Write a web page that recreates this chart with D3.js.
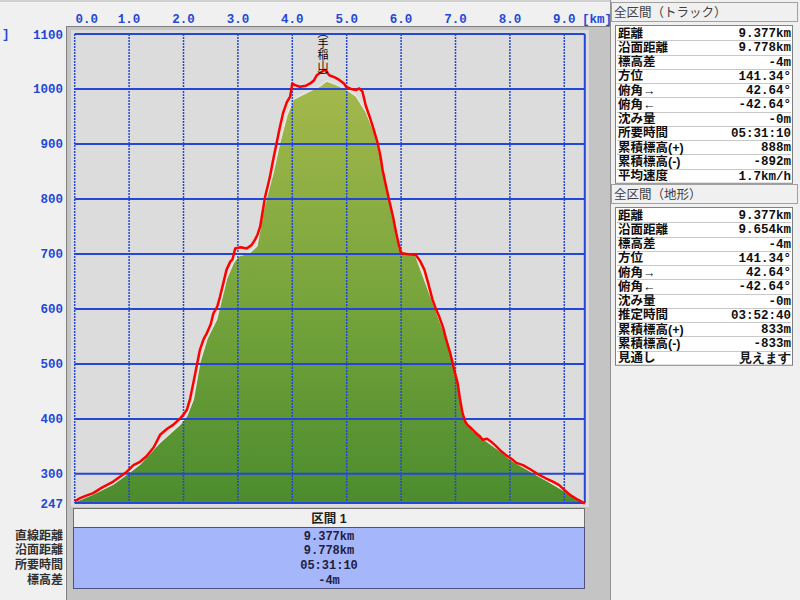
<!DOCTYPE html>
<html><head><meta charset="utf-8">
<script src="https://cdn.jsdelivr.net/npm/d3@7"></script>
<style>
html,body{margin:0;padding:0;background:#f0f0f0;}
svg{display:block;}
</style></head>
<body>
<svg id="c" width="800" height="600"></svg>
<script>
// ---- data ----
const xTicks = [0,1,2,3,4,5,6,7,8,9];
const yTicks = [300,400,500,600,700,800,900,1000,1100];
const yMinLabel = 247;
const totalKm = 9.377;

const trackKm   = [0,0.10,0.20,0.34,0.50,0.71,0.85,0.96,1.08,1.20,1.32,1.45,1.57,1.70,1.81,1.94,2.00,2.06,2.12,2.18,2.24,2.30,2.37,2.43,2.50,2.55,2.62,2.67,2.73,2.79,2.86,2.90,2.95,3.05,3.16,3.25,3.31,3.36,3.41,3.46,3.50,3.55,3.59,3.65,3.71,3.77,3.83,3.90,3.96,4.00,4.05,4.14,4.25,4.33,4.40,4.45,4.52,4.60,4.68,4.78,4.87,4.95,4.99,5.08,5.17,5.23,5.29,5.35,5.42,5.50,5.57,5.62,5.66,5.72,5.78,5.85,5.91,5.96,6.00,6.10,6.20,6.27,6.35,6.43,6.50,6.58,6.64,6.70,6.77,6.83,6.90,6.95,7.00,7.04,7.08,7.13,7.18,7.22,7.30,7.38,7.44,7.50,7.58,7.65,7.75,7.84,7.93,8.02,8.12,8.24,8.38,8.54,8.66,8.79,8.90,9.00,9.08,9.15,9.25,9.34,9.377];
const trackElev = [250,256,260,265,275,286,296,304,316,322,332,348,371,382,389,401,408,416,436,465,495,525,545,556,572,592,604,622,646,671,686,690,710,712,710,716,725,735,750,780,804,824,841,872,901,930,956,976,986,1010,1007,1004,1006,1010,1016,1025,1030,1035,1025,1021,1016,1010,1004,1000,998,1001,995,970,950,925,901,878,853,825,798,768,738,716,701,700,699,698,687,671,646,616,600,586,567,544,521,501,480,465,438,410,395,389,382,374,369,362,364,359,350,341,334,328,320,316,308,298,292,286,280,271,264,259,253,248,246];

const terrKm   = [0,0.34,0.71,0.96,1.20,1.57,1.94,2.06,2.18,2.30,2.43,2.61,2.79,2.92,3.01,3.22,3.35,3.47,3.65,3.77,3.90,4.02,4.26,4.51,4.63,4.80,4.99,5.17,5.36,5.51,5.66,5.78,5.97,6.27,6.52,6.70,6.89,7.01,7.13,7.32,7.56,7.81,8.05,8.42,8.79,9.15,9.377];
const terrElev = [248,262,280,298,316,356,389,404,434,501,544,580,653,683,695,701,713,780,847,901,950,980,992,1004,1013,1007,998,986,956,919,859,798,707,695,628,580,532,483,407,377,359,341,322,301,280,259,247];

const peakLabel = "（手稲山）";
const peakKm = 4.6;

const trackRows = [["距離","9.377km"],["沿面距離","9.778km"],["標高差","-4m"],["方位","141.34°"],["俯角→","42.64°"],["俯角←","-42.64°"],["沈み量","-0m"],["所要時間","05:31:10"],["累積標高(+)","888m"],["累積標高(-)","-892m"],["平均速度","1.7km/h"]];
const terrRows = [["距離","9.377km"],["沿面距離","9.654km"],["標高差","-4m"],["方位","141.34°"],["俯角→","42.64°"],["俯角←","-42.64°"],["沈み量","-0m"],["推定時間","03:52:40"],["累積標高(+)","833m"],["累積標高(-)","-833m"],["見通し","見えます"]];
const sectionLabels = ["直線距離","沿面距離","所要時間","標高差"];
const sectionValues = ["9.377km","9.778km","05:31:10","-4m"];

// ---- drawing ----
const svg = d3.select("#c");
const BLUE = "#2447d6";
const x = d3.scaleLinear().domain([0,totalKm]).range([74.7,584.8]);
const y = d3.scaleLinear().domain([yMinLabel,1100]).range([503,34]);
const mono = "'Liberation Mono','DejaVu Sans Mono',monospace";
const jp = "'Noto Sans CJK JP','Noto Sans CJK SC',sans-serif";
// compact-metric primary font, CJK glyphs fall back to Noto
const jpc = "'Liberation Sans','Noto Sans CJK JP','Noto Sans CJK SC',sans-serif";

function lines(parent, arr, xPos, y0, step, anchor){
  const t = parent.append("g");
  t.selectAll("text").data(arr).join("text").attr("text-anchor",anchor)
    .attr("x",xPos).attr("y",(d,i)=>y0+i*step).text(d=>d);
  return t;
}

// top separator line
svg.append("line").attr("x1",0).attr("x2",610).attr("y1",1).attr("y2",1).attr("stroke","#b0b0b0");

// middle panel background
svg.append("rect").attr("x",66).attr("y",26).attr("width",544).attr("height",574).attr("fill","#c4c4c4");
svg.append("line").attr("x1",66.5).attr("x2",66.5).attr("y1",26).attr("y2",600).attr("stroke","#808080");
svg.append("line").attr("x1",66).attr("x2",610).attr("y1",26.5).attr("y2",26.5).attr("stroke","#808080");
svg.append("line").attr("x1",610.5).attr("x2",610.5).attr("y1",0).attr("y2",600).attr("stroke","#909090");
// plot background
svg.append("rect").attr("x",71).attr("y",30).attr("width",518).attr("height",477).attr("fill","#dcdcdc");

// gradient
const defs = svg.append("defs");
const g = defs.append("linearGradient").attr("id","gr").attr("gradientUnits","userSpaceOnUse")
  .attr("x1",0).attr("x2",0).attr("y1",y(1010)).attr("y2",y(yMinLabel));
g.append("stop").attr("offset",0).attr("stop-color","#a4b84c");
g.append("stop").attr("offset",0.5).attr("stop-color","#78a53c");
g.append("stop").attr("offset",1).attr("stop-color","#4c8c2e");

const terr = terrKm.map((k,i)=>[k,terrElev[i]]);
const trk = trackKm.map((k,i)=>[k,trackElev[i]]);

svg.append("path").datum(terr)
  .attr("d",d3.area().x(d=>x(d[0])).y0(y(yMinLabel)).y1(d=>y(d[1])))
  .attr("fill","url(#gr)");
svg.append("path").datum(terr)
  .attr("d",d3.line().x(d=>x(d[0])).y(d=>y(d[1])-1))
  .attr("fill","none").attr("stroke","#e4e8dc").attr("stroke-width",1.5);

// grid
svg.append("g").selectAll("line").data(yTicks.concat([yMinLabel])).join("line")
  .attr("x1",x(0)).attr("x2",x(totalKm)).attr("y1",d=>y(d)).attr("y2",d=>y(d))
  .attr("stroke",BLUE).attr("stroke-width",2);
svg.append("g").selectAll("line").data(xTicks).join("line")
  .attr("x1",d=>x(d)).attr("x2",d=>x(d)).attr("y1",y(1100)).attr("y2",y(yMinLabel))
  .attr("stroke",BLUE).attr("stroke-width",1.5).attr("stroke-dasharray","2,1");
svg.append("line").attr("x1",x(totalKm)).attr("x2",x(totalKm)).attr("y1",y(1100)).attr("y2",y(yMinLabel))
  .attr("stroke",BLUE).attr("stroke-width",2);

// track
svg.append("path").datum(trk)
  .attr("d",d3.line().x(d=>x(d[0])).y(d=>y(d[1])))
  .attr("fill","none").attr("stroke","#ff0000").attr("stroke-width",2.5).attr("stroke-linejoin","round");

// peak label (vertical)
svg.append("text").attr("x",x(peakKm)-2).attr("y",27)
  .attr("writing-mode","vertical-rl").attr("style","writing-mode:vertical-rl")
  .attr("font-family",jp).attr("font-size",11).attr("fill","#000")
  .text(peakLabel);

// top axis labels
svg.append("g").selectAll("text").data(xTicks).join("text")
  .attr("x",d=>d===0?x(d)+12:x(d)).attr("y",23)
  .attr("text-anchor","middle").attr("font-family",mono).attr("font-weight","bold").attr("font-size",12.5)
  .attr("fill",BLUE).text(d=>d.toFixed(1));
svg.append("text").attr("x",582).attr("y",23).attr("font-family",mono).attr("font-weight","bold")
  .attr("font-size",12.5).attr("fill",BLUE).text("[km]");
// left axis labels
svg.append("g").selectAll("text").data(yTicks.concat([yMinLabel])).join("text")
  .attr("x",63).attr("y",d=>y(d)+4.5)
  .attr("text-anchor","end").attr("font-family",mono).attr("font-weight","bold").attr("font-size",12.5)
  .attr("fill",BLUE).text(d=>d);
svg.append("text").attr("x",2).attr("y",38).attr("font-family",mono).attr("font-weight","bold")
  .attr("font-size",12.5).attr("fill",BLUE).text("]");

// bottom section table
svg.append("rect").attr("x",73.5).attr("y",508.5).attr("width",511).attr("height",19).attr("fill","#f0f0f0").attr("stroke","#707070");
svg.append("text").attr("x",329).attr("y",522.5).attr("text-anchor","middle").attr("font-family",jpc).attr("font-size",12.5)
  .attr("font-weight","bold").attr("fill","#202020").text("区間 1");
svg.append("rect").attr("x",73.5).attr("y",527.5).attr("width",511).attr("height",61).attr("fill","#a6b6fa").attr("stroke","#505080");
lines(svg, sectionValues, 329, 539.5, 14.8, "middle")
  .attr("font-family",mono).attr("font-weight","bold").attr("font-size",12).attr("fill","#202040");
lines(svg, sectionLabels, 63, 539.5, 14.8, "end")
  .attr("font-family",jpc).attr("font-size",12).attr("font-weight","bold").attr("fill","#303030");

// right panel
function panel(title, rows, top){
  svg.append("rect").attr("x",611.5).attr("y",top+0.5).attr("width",186).attr("height",19).attr("fill","#f0f0f0").attr("stroke","#a0a0a0");
  svg.append("text").attr("x",614).attr("y",top+15).attr("font-family",jpc).attr("font-size",12.5).attr("fill","#404040").text(title);
  const t0 = top+23, rh = 14.25;
  svg.append("rect").attr("x",615.5).attr("y",t0+0.5).attr("width",177).attr("height",rows.length*rh+1).attr("fill","#ffffff").attr("stroke","#808080");
  const gg = svg.append("g");
  gg.selectAll("line").data(rows.slice(1)).join("line")
    .attr("x1",617).attr("x2",791).attr("y1",(d,i)=>Math.round(t0+1+(i+1)*rh)+0.5).attr("y2",(d,i)=>Math.round(t0+1+(i+1)*rh)+0.5)
    .attr("stroke","#c8c8c8");
  lines(gg, rows.map(r=>r[0]), 618, t0+12.5, rh, "start")
    .attr("font-family",jpc).attr("font-size",12.5).attr("font-weight","bold").attr("fill","#101010");
  lines(gg, rows.map(r=>r[1]), 791, t0+12, rh, "end")
    .attr("font-family",mono).attr("font-weight","bold").attr("font-size",12.5).attr("fill","#101010");
}
panel("全区間（トラック）", trackRows, 2);
panel("全区間（地形）", terrRows, 184);
</script>
</body></html>
